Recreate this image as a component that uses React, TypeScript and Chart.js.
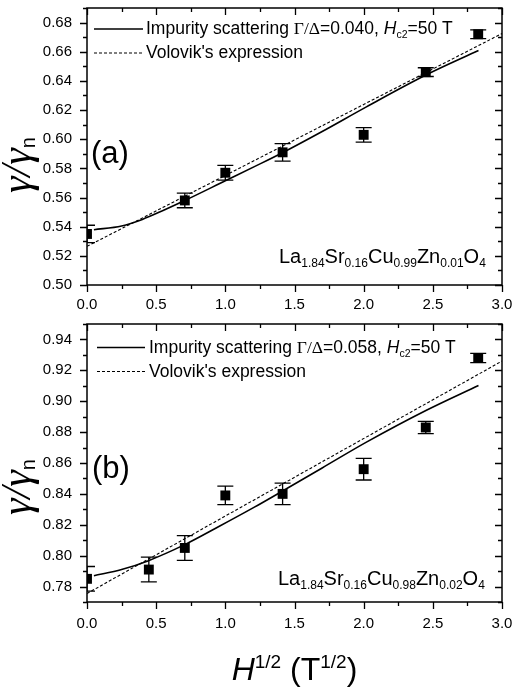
import { useEffect, useRef } from "react";
import { Chart, registerables } from "chart.js";
Chart.register(...registerables);

const SANS = '"Liberation Sans", Arial, Helvetica, sans-serif';
const SERIF = '"Liberation Serif", "Times New Roman", serif';

// shared x axis
const xTicks = [0, 0.5, 1.0, 1.5, 2.0, 2.5, 3.0];
const xMinorTicks = [0.25, 0.75, 1.25, 1.75, 2.25, 2.75];

// panel (a)
const aYTicks = [0.5, 0.52, 0.54, 0.56, 0.58, 0.6, 0.62, 0.64, 0.66, 0.68];
const aYMinorTicks = [0.51, 0.53, 0.55, 0.57, 0.59, 0.61, 0.63, 0.65, 0.67, 0.69];
const aDataX = [0, 0.707, 1.0, 1.414, 2.0, 2.449, 2.828];
const aDataY = [0.535, 0.558, 0.577, 0.591, 0.603, 0.646, 0.672];
const aDataErr = [0.006, 0.005, 0.005, 0.006, 0.005, 0.003, 0.003];
const aFitX = [0.05, 0.25, 0.4, 0.55, 0.71, 1.0, 1.21, 1.42, 1.7, 2.02, 2.45, 2.83];
const aFitY = [0.5379, 0.5405, 0.545, 0.5511, 0.5581, 0.5715, 0.5812, 0.5911, 0.6053, 0.6222, 0.644, 0.6608];
const aVolovikX = [0, 3];
const aVolovikY = [0.5265, 0.6725];

// panel (b)
const bYTicks = [0.78, 0.8, 0.82, 0.84, 0.86, 0.88, 0.9, 0.92, 0.94];
const bYMinorTicks = [0.77, 0.79, 0.81, 0.83, 0.85, 0.87, 0.89, 0.91, 0.93, 0.95];
const bDataX = [0, 0.447, 0.707, 1.0, 1.414, 2.0, 2.449, 2.828];
const bDataY = [0.785, 0.791, 0.805, 0.839, 0.84, 0.856, 0.883, 0.928];
const bDataErr = [0.008, 0.008, 0.008, 0.006, 0.007, 0.007, 0.004, 0.003];
const bFitX = [0.05, 0.25, 0.44, 0.71, 0.95, 1.21, 1.42, 1.7, 2.02, 2.45, 2.83];
const bFitY = [0.787, 0.791, 0.7966, 0.8073, 0.8187, 0.8314, 0.8422, 0.8568, 0.8735, 0.894, 0.9102];
const bVolovikX = [0, 3];
const bVolovikY = [0.7755, 0.926];

type Run = { t: string; font: string; dy?: number };

function runsWidth(ctx: CanvasRenderingContext2D, runs: Run[]) {
  let w = 0;
  for (const r of runs) {
    ctx.font = r.font;
    w += ctx.measureText(r.t).width;
  }
  return w;
}
function drawRuns(ctx: CanvasRenderingContext2D, runs: Run[], x: number, y: number) {
  let cx = x;
  ctx.textAlign = "left";
  ctx.textBaseline = "alphabetic";
  for (const r of runs) {
    ctx.font = r.font;
    ctx.fillText(r.t, cx, y + (r.dy || 0));
    cx += ctx.measureText(r.t).width;
  }
  return cx - x;
}

const legendFont = `17.5px ${SANS}`;
function legendRuns(gd: string): Run[] {
  return [
    { t: "Impurity scattering ", font: legendFont },
    { t: "\u0393/\u0394", font: `17.5px ${SERIF}` },
    { t: `=${gd}, `, font: legendFont },
    { t: "H", font: `italic 17.5px ${SANS}` },
    { t: "c2", font: `10.5px ${SANS}`, dy: 4 },
    { t: "=50 T", font: legendFont },
  ];
}
function compoundRuns(parts: string[]): Run[] {
  const main = `20px ${SANS}`;
  const sub = `12px ${SANS}`;
  const els = ["La", "Sr", "Cu", "Zn", "O"];
  const out: Run[] = [];
  els.forEach((e, i) => {
    out.push({ t: e, font: main });
    out.push({ t: parts[i], font: sub, dy: 4 });
  });
  return out;
}
const yLabelRuns: Run[] = [
  { t: "\u03B3/\u03B3", font: `italic 42px ${SERIF}` },
  { t: "n", font: `20px ${SANS}`, dy: 5 },
];
const xTitleRuns: Run[] = [
  { t: "H", font: `italic 32px ${SANS}` },
  { t: "1/2", font: `19px ${SANS}`, dy: -12 },
  { t: " (T", font: `32px ${SANS}` },
  { t: "1/2", font: `19px ${SANS}`, dy: -12 },
  { t: ")", font: `32px ${SANS}` },
];

type PanelCfg = {
  height: number;
  padTop: number;
  xHeight: number;
  xLabelPad: number;
  yMin: number;
  yMax: number;
  yTicks: number[];
  yMinor: number[];
  dataX: number[];
  dataY: number[];
  dataErr: number[];
  fitX: number[];
  fitY: number[];
  volX: number[];
  volY: number[];
  gd: string;
  legendBase: number[];
  legendLineX: [number, number];
  legendTextX: number;
  panelLabel: string;
  panelLabelPos: [number, number];
  compound: string[];
  compoundPos: [number, number];
  yLabelCenter: number;
  xTitleBase?: number;
};

function makePlugin(cfg: PanelCfg) {
  return {
    id: "panelDecor",
    beforeDatasetsDraw(chart: any) {
      const ctx: CanvasRenderingContext2D = chart.ctx;
      const xs = chart.scales.x;
      const ys = chart.scales.y;
      const a = chart.chartArea;
      ctx.save();
      ctx.beginPath();
      ctx.rect(a.left, a.top, a.right - a.left, a.bottom - a.top);
      ctx.clip();
      ctx.strokeStyle = "#000";
      ctx.lineWidth = 1.3;
      cfg.dataX.forEach((xv, i) => {
        const px = xs.getPixelForValue(xv);
        const y1 = ys.getPixelForValue(cfg.dataY[i] + cfg.dataErr[i]);
        const y2 = ys.getPixelForValue(cfg.dataY[i] - cfg.dataErr[i]);
        ctx.beginPath();
        ctx.moveTo(px, y1);
        ctx.lineTo(px, y2);
        ctx.moveTo(px - 8, y1);
        ctx.lineTo(px + 8, y1);
        ctx.moveTo(px - 8, y2);
        ctx.lineTo(px + 8, y2);
        ctx.stroke();
      });
      ctx.restore();
    },
    afterDraw(chart: any) {
      const ctx: CanvasRenderingContext2D = chart.ctx;
      const xs = chart.scales.x;
      const ys = chart.scales.y;
      const a = chart.chartArea;
      ctx.save();
      ctx.strokeStyle = "#000";
      ctx.fillStyle = "#000";
      // ticks
      ctx.lineWidth = 1.3;
      const tickX = (v: number, len: number) => {
        const px = Math.round(xs.getPixelForValue(v)) + 0.5;
        ctx.beginPath();
        ctx.moveTo(px, a.bottom);
        ctx.lineTo(px, a.bottom + len);
        ctx.moveTo(px, a.top);
        ctx.lineTo(px, a.top + len);
        ctx.stroke();
      };
      const tickY = (v: number, len: number) => {
        const py = Math.round(ys.getPixelForValue(v)) + 0.5;
        ctx.beginPath();
        ctx.moveTo(a.left - len, py);
        ctx.lineTo(a.left, py);
        ctx.moveTo(a.right - len, py);
        ctx.lineTo(a.right, py);
        ctx.stroke();
      };
      xTicks.forEach((v) => tickX(v, 7));
      xMinorTicks.forEach((v) => tickX(v, 4));
      cfg.yTicks.forEach((v) => tickY(v, 7));
      cfg.yMinor.forEach((v) => tickY(v, 4));
      // frame
      ctx.lineWidth = 1.5;
      ctx.strokeRect(a.left, a.top, a.right - a.left, a.bottom - a.top);

      // legend
      ctx.lineWidth = 1.5;
      ctx.setLineDash([]);
      const l1 = cfg.legendBase[0] - 5;
      ctx.beginPath();
      ctx.moveTo(cfg.legendLineX[0], l1);
      ctx.lineTo(cfg.legendLineX[1], l1);
      ctx.stroke();
      ctx.lineWidth = 1.1;
      ctx.setLineDash([3, 2]);
      const l2 = cfg.legendBase[1] - 5;
      ctx.beginPath();
      ctx.moveTo(cfg.legendLineX[0], l2);
      ctx.lineTo(cfg.legendLineX[1], l2);
      ctx.stroke();
      ctx.setLineDash([]);
      drawRuns(ctx, legendRuns(cfg.gd), cfg.legendTextX, cfg.legendBase[0]);
      drawRuns(ctx, [{ t: "Volovik's expression", font: legendFont }], cfg.legendTextX, cfg.legendBase[1]);

      // panel label
      drawRuns(ctx, [{ t: cfg.panelLabel, font: `31px ${SANS}` }], cfg.panelLabelPos[0], cfg.panelLabelPos[1]);
      // compound
      drawRuns(ctx, compoundRuns(cfg.compound), cfg.compoundPos[0], cfg.compoundPos[1]);

      // y label
      const yw = runsWidth(ctx, yLabelRuns);
      ctx.save();
      ctx.translate(30, cfg.yLabelCenter + yw / 2);
      ctx.rotate(-Math.PI / 2);
      drawRuns(ctx, yLabelRuns, 0, 0);
      ctx.restore();

      // x title
      if (cfg.xTitleBase !== undefined) {
        const w = runsWidth(ctx, xTitleRuns);
        const cx = (a.left + a.right) / 2;
        drawRuns(ctx, xTitleRuns, cx - w / 2, cfg.xTitleBase);
      }
      ctx.restore();
    },
  };
}

function Panel({ cfg, top }: { cfg: PanelCfg; top: number }) {
  const ref = useRef<HTMLCanvasElement>(null);
  useEffect(() => {
    const pts = cfg.dataX.map((x, i) => ({ x, y: cfg.dataY[i] }));
    const fit = cfg.fitX.map((x, i) => ({ x, y: cfg.fitY[i] }));
    const vol = cfg.volX.map((x, i) => ({ x, y: cfg.volY[i] }));
    const chart = new Chart(ref.current!, {
      type: "scatter",
      data: {
        datasets: [
          {
            data: vol,
            showLine: true,
            borderColor: "#000",
            borderWidth: 1.1,
            borderDash: [3, 2],
            pointRadius: 0,
            clip: 0,
          } as any,
          {
            data: fit,
            showLine: true,
            borderColor: "#000",
            borderWidth: 1.6,
            pointRadius: 0,
            cubicInterpolationMode: "monotone",
            clip: 0,
          } as any,
          {
            data: pts,
            pointStyle: "rect",
            pointRadius: 7,
            backgroundColor: "#000",
            borderColor: "#000",
            borderWidth: 0,
            clip: 0,
          } as any,
        ],
      },
      options: {
        responsive: false,
        animation: false,
        devicePixelRatio: 1,
        events: [],
        layout: { padding: { top: cfg.padTop, right: 12, left: 0, bottom: 0 }, autoPadding: false },
        plugins: { legend: { display: false }, tooltip: { enabled: false } },
        scales: {
          x: {
            type: "linear",
            min: 0,
            max: 3,
            grid: { display: false, drawTicks: false },
            border: { display: false },
            afterBuildTicks: (s: any) => {
              s.ticks = xTicks.map((v) => ({ value: v }));
            },
            afterFit: (s: any) => {
              s.height = cfg.xHeight;
              s.paddingLeft = 0;
              s.paddingRight = 0;
            },
            ticks: {
              autoSkip: false,
              maxRotation: 0,
              padding: cfg.xLabelPad,
              color: "#000",
              font: { family: SANS, size: 15 },
              callback: (v: any) => Number(v).toFixed(1),
            },
          },
          y: {
            type: "linear",
            min: cfg.yMin,
            max: cfg.yMax,
            grid: { display: false, drawTicks: false },
            border: { display: false },
            afterBuildTicks: (s: any) => {
              s.ticks = cfg.yTicks.map((v) => ({ value: v }));
            },
            afterFit: (s: any) => {
              s.width = 87;
              s.paddingTop = 0;
              s.paddingBottom = 0;
            },
            ticks: {
              autoSkip: false,
              padding: 15,
              color: "#000",
              font: { family: SANS, size: 15 },
              callback: (v: any) => Number(v).toFixed(2),
            },
          },
        },
      } as any,
      plugins: [makePlugin(cfg)],
    });
    return () => chart.destroy();
  }, [cfg]);
  return (
    <canvas
      ref={ref}
      width={514}
      height={cfg.height}
      style={{ position: "absolute", left: 0, top, width: 514, height: cfg.height, display: "block" }}
    />
  );
}

const panelA: PanelCfg = {
  height: 318,
  padTop: 8,
  xHeight: 33,
  xLabelPad: 11,
  yMin: 0.5,
  yMax: 0.69,
  yTicks: aYTicks,
  yMinor: aYMinorTicks,
  dataX: aDataX,
  dataY: aDataY,
  dataErr: aDataErr,
  fitX: aFitX,
  fitY: aFitY,
  volX: aVolovikX,
  volY: aVolovikY,
  gd: "0.040",
  legendBase: [34, 58],
  legendLineX: [94, 143],
  legendTextX: 146,
  panelLabel: "(a)",
  panelLabelPos: [91, 163],
  compound: ["1.84", "0.16", "0.99", "0.01", "4"],
  compoundPos: [279, 263],
  yLabelCenter: 165,
};

const panelB: PanelCfg = {
  height: 369,
  padTop: 6,
  xHeight: 85,
  xLabelPad: 13,
  yMin: 0.77,
  yMax: 0.95,
  yTicks: bYTicks,
  yMinor: bYMinorTicks,
  dataX: bDataX,
  dataY: bDataY,
  dataErr: bDataErr,
  fitX: bFitX,
  fitY: bFitY,
  volX: bVolovikX,
  volY: bVolovikY,
  gd: "0.058",
  legendBase: [352.5 - 318, 376.5 - 318],
  legendLineX: [97, 145],
  legendTextX: 149,
  panelLabel: "(b)",
  panelLabelPos: [92, 478 - 318],
  compound: ["1.84", "0.16", "0.98", "0.02", "4"],
  compoundPos: [278, 585 - 318],
  yLabelCenter: 487 - 318,
  xTitleBase: 680 - 318,
};

export default function App() {
  useEffect(() => {
    document.body.style.margin = "0";
  }, []);
  return (
    <div style={{ position: "absolute", left: 0, top: 0, width: 514, height: 687, background: "#fff", overflow: "hidden" }}>
      <Panel cfg={panelA} top={0} />
      <Panel cfg={panelB} top={318} />
    </div>
  );
}
